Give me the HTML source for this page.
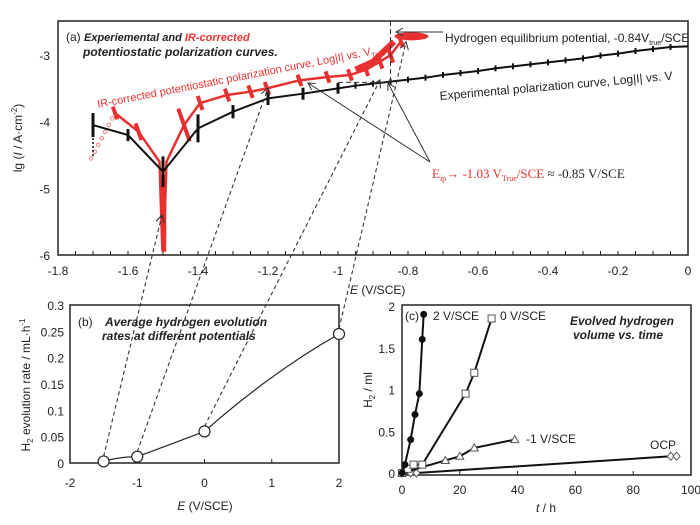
<!DOCTYPE html>
<html><head><meta charset="utf-8">
<style>
html,body{margin:0;padding:0;background:#fff;}
svg{display:block;font-family:"Liberation Sans",sans-serif;}
.t{font-size:12px;fill:#222;}
</style></head>
<body>
<svg id="fig" width="700" height="525" viewBox="0 0 700 525" xmlns="http://www.w3.org/2000/svg">
<defs>
<marker id="ah" markerWidth="8" markerHeight="8" refX="7" refY="4" orient="auto"><path d="M0,0 L7,4 L0,8" fill="none" stroke="#333" stroke-width="1"/></marker>
</defs>
<g id="ga"></g>
<g id="gb"></g>
<g id="gc"></g>
<g id="gl"></g>
</svg>
<script>
// ---- Panel a data ----
const aTicksX = [-1.8,-1.6,-1.4,-1.2,-1,-0.8,-0.6,-0.4,-0.2,0];
const aTicksY = [-3,-4,-5,-6];
const expE = [-1.7,-1.6,-1.5,-1.4,-1.3,-1.2,-1.1,-1,-0.95,-0.9,-0.85,-0.8,-0.75,-0.7,-0.65,-0.6,-0.55,-0.5,-0.45,-0.4,-0.35,-0.3,-0.25,-0.2,-0.15,-0.1,-0.05,0];
const expLg = [-4.05,-4.2,-4.75,-4.1,-3.85,-3.65,-3.58,-3.5,-3.46,-3.43,-3.4,-3.37,-3.34,-3.3,-3.27,-3.24,-3.2,-3.17,-3.14,-3.11,-3.08,-3.05,-3.01,-2.98,-2.94,-2.91,-2.88,-2.87];
const expErr = [0.15,0.06,0.2,0.18,0.07,0.07,0.06,0.05,0.015,0.015,0.015,0.015,0.015,0.015,0.015,0.015,0.015,0.015,0.015,0.015,0.015,0.015,0.015,0.015,0.015,0.015,0.015,0];
const irE = [-1.637,-1.57,-1.51,-1.502,-1.498,-1.49,-1.44,-1.394,-1.317,-1.25,-1.203,-1.11,-1.03,-0.966,-0.92,-0.88,-0.85,-0.82];
const irLg = [-3.87,-4.15,-4.6,-5.9,-5.9,-4.6,-4.05,-3.72,-3.6,-3.55,-3.5,-3.38,-3.33,-3.3,-3.22,-3.1,-3.0,-2.8];
const irErr = [0.05,0.08,0,0,0,0,0.2,0.06,0.05,0.05,0.05,0.04,0.04,0.04,0.05,0.06,0.07,0.04];
const ocE = [-1.705,-1.695,-1.685,-1.675,-1.665,-1.655,-1.645];
const ocLg = [-4.55,-4.45,-4.35,-4.25,-4.15,-4.05,-3.95];
// ---- Panel b data ----
const bTicksX = [-2,-1,0,1,2];
const bTicksY = [0,0.05,0.1,0.15,0.2,0.25,0.3];
const bE = [-1.5,-1,0,2];
const bRate = [0.003,0.012,0.06,0.245];
// ---- Panel c data ----
const cTicksX = [0,20,40,60,80,100];
const cTicksY = [0,0.5,1,1.5,2];
const c2T = [0,1,3,4.5,6,7,7.5];
const c2V = [0,0.1,0.4,0.7,0.95,1.6,1.9];
const c0T = [0,2,4,7,22,25,31];
const c0V = [0,0.05,0.1,0.1,0.95,1.2,1.85];
const cm1T = [0,15,20,25,39];
const cm1V = [0,0.15,0.2,0.3,0.4];
const cOcpT = [0,3,5,93,95];
const cOcpV = [0,0,0,0.2,0.2];

const NS="http://www.w3.org/2000/svg";
function mk(parent,tag,attrs,txt){const e=document.createElementNS(NS,tag);for(const k in attrs)e.setAttribute(k,attrs[k]);if(txt!==undefined)e.textContent=txt;parent.appendChild(e);return e;}

const ax=e=>58+(e+1.8)/1.8*630, ay=v=>55+(-3-v)*66.7;
const bx=e=>70+(e+2)/4*269, by=v=>463-v/0.3*158;
const cx=t=>402+t/100*289, cy=v=>473-v/2*167;

// ===== Panel a =====
const ga=document.getElementById('ga');
let f=mk(ga,'rect',{x:58,y:21,width:630,height:234,fill:'none',stroke:'#222','stroke-width':1.5});

aTicksX.forEach(v=>{const l=mk(ga,'text',{x:ax(v),y:275,'text-anchor':'middle',class:'t','font-size':'13'},String(v));});
for(let v=-1.75;v<0;v+=0.05){mk(ga,'line',{x1:ax(v),x2:ax(v),y1:255,y2:251,stroke:'#222'});}
aTicksY.forEach(v=>{const l=mk(ga,'text',{x:50,y:ay(v)+5,'text-anchor':'end',class:'t','font-size':'13'},String(v));});
let t=mk(ga,'text',{x:22,y:138,transform:'rotate(-90 22 138)','text-anchor':'middle',class:'t','font-size':'13'});
t.innerHTML='lg (<tspan font-style="italic">I</tspan> / A·cm<tspan font-size="8" dy="-5">-2</tspan><tspan dy="5">)</tspan>';

t=mk(ga,'text',{x:350,y:294,class:'t','font-size':'13'});t.innerHTML='<tspan font-style="italic">E</tspan> (V/SCE)';

t=mk(ga,'text',{x:66,y:41,class:'t','font-size':'12'});
t.innerHTML='(a) <tspan font-weight="bold" font-style="italic" font-size="11">Experiemental and </tspan><tspan font-weight="bold" font-style="italic" font-size="11" fill="#e33">IR-corrected</tspan>';

t=mk(ga,'text',{x:83,y:56,class:'t','font-size':'11','font-weight':'bold','font-style':'italic'},'potentiostatic polarization curves.');

ocE.forEach((e,i)=>{const c=mk(ga,'circle',{cx:ax(e),cy:ay(ocLg[i]),r:1.8,fill:'none',stroke:'#f08080'});});
let p=mk(ga,'polyline',{points:irE.map((e,i)=>ax(e)+','+ay(irLg[i])).join(' '),fill:'none',stroke:'#e83030','stroke-width':2.5});

irE.forEach((e,i)=>{if(!irErr[i])return;const x=ax(e),y=ay(irLg[i]),d=irErr[i]*66.7+3;const m=mk(ga,'line',{x1:x-d*0.35,y1:y-d,x2:x+d*0.35,y2:y+d,stroke:'#e83030','stroke-width':4});});
mk(ga,'rect',{x:ax(-1.505),y:ay(-4.8),width:5,height:ay(-5.95)-ay(-4.8),fill:'#e83030'});
mk(ga,'ellipse',{cx:ax(-0.79),cy:ay(-2.72),rx:17,ry:4,fill:'#e83030'});
mk(ga,'polyline',{points:[[-0.95,-3.22],[-0.92,-3.15],[-0.9,-3.1],[-0.88,-3.0],[-0.86,-2.9],[-0.84,-2.8]].map(q=>ax(q[0])+','+ay(q[1])).join(' '),fill:'none',stroke:'#e83030','stroke-width':6});
t=mk(ga,'text',{x:98,y:108,transform:'rotate(-11 98 108)',fill:'#e83030','font-size':'11'});
t.innerHTML='IR-corrected potentiostatic polarization curve, Log|I| vs. V<tspan font-size="7" dy="3">True</tspan>';

p=mk(ga,'polyline',{points:expE.map((e,i)=>ax(e)+','+ay(expLg[i])).join(' '),fill:'none',stroke:'#111','stroke-width':2});

expE.forEach((e,i)=>{if(!expErr[i])return;const x=ax(e),y=ay(expLg[i]),d=expErr[i]*66.7+2;const m=mk(ga,'line',{x1:x,y1:y-d,x2:x,y2:y+d,stroke:'#111','stroke-width':i<8?3:2});});
for(let k=0;k<6;k++)mk(ga,'circle',{cx:ax(-1.7),cy:ay(-4.2-k*0.06),r:1,fill:'#111'});
t=mk(ga,'text',{x:440,y:100,transform:'rotate(-5 440 100)',class:'t','font-size':'11'},'Experimental polarization curve, Log|I| vs. V');

mk(ga,'line',{x1:ax(-0.85),x2:ax(-0.85),y1:21,y2:ay(-3.4),stroke:'#333','stroke-dasharray':'5,3'});
mk(ga,'line',{x1:ax(-1.0),x2:ax(-0.85),y1:ay(-3.41),y2:ay(-3.41),stroke:'#333','stroke-dasharray':'5,3'});
mk(ga,'line',{x1:443,y1:32,x2:396,y2:32,stroke:'#333','marker-end':'url(#ah)'});
t=mk(ga,'text',{x:445,y:42,class:'t','font-size':'11'});
t.innerHTML='Hydrogen equilibrium potential, -0.84V<tspan font-size="7" dy="3">true</tspan><tspan dy="-3">/SCE</tspan>';

mk(ga,'line',{x1:430,y1:162,x2:388,y2:83,stroke:'#333','marker-end':'url(#ah)'});
mk(ga,'line',{x1:430,y1:162,x2:308,y2:83,stroke:'#333','marker-end':'url(#ah)'});
t=mk(ga,'text',{x:432,y:178,'font-size':'13','font-family':'Liberation Serif,serif',fill:'#e83030'});
t.innerHTML='E<tspan font-size="8" dy="3">ip</tspan><tspan dy="-3">→ -1.03 V</tspan><tspan font-size="8" dy="3">True</tspan><tspan dy="-3">/SCE </tspan><tspan fill="#222">≈ -0.85 V/SCE</tspan>';


// ===== Panel b =====
const gb=document.getElementById('gb');
f=mk(gb,'rect',{x:70,y:305,width:269,height:158,fill:'none',stroke:'#222','stroke-width':1.5});

bTicksX.forEach(v=>{mk(gb,'line',{x1:bx(v),x2:bx(v),y1:463,y2:459,stroke:'#222'});const l=mk(gb,'text',{x:bx(v),y:487,'text-anchor':'middle',class:'t','font-size':'13'},String(v));});
bTicksY.forEach(v=>{const l=mk(gb,'text',{x:64,y:by(v)+5,'text-anchor':'end',class:'t','font-size':'13'},String(v));});
t=mk(gb,'text',{x:30,y:385,transform:'rotate(-90 30 385)','text-anchor':'middle',class:'t','font-size':'12.5'});
t.innerHTML='H<tspan font-size="8" dy="3">2</tspan><tspan dy="-3"> evolution rate / mL·h</tspan><tspan font-size="8" dy="-5">-1</tspan>';

t=mk(gb,'text',{x:205,y:510,'text-anchor':'middle',class:'t','font-size':'13'});t.innerHTML='<tspan font-style="italic">E</tspan> (V/SCE)';

mk(gb,'text',{x:78,y:326,class:'t','font-size':'12'},'(b)');
t=mk(gb,'text',{x:105,y:326,class:'t','font-size':'11','font-weight':'bold','font-style':'italic'},'Average hydrogen evolution');

mk(gb,'text',{x:102,y:340,class:'t','font-size':'11','font-weight':'bold','font-style':'italic'},'rates at different potentials');
{let d='M'+bx(bE[0])+','+by(bRate[0]);for(let i=1;i<bE.length;i++){const x0=bx(bE[i-1]),y0=by(bRate[i-1]),x1=bx(bE[i]),y1=by(bRate[i]);d+=' Q'+((x0+x1)/2)+','+(i==1?y1:(y0*0.35+y1*0.65)+4)+' '+x1+','+y1;}
p=mk(gb,'path',{d:d,fill:'none',stroke:'#222','stroke-width':1.2});}
bE.forEach((e,i)=>{const c=mk(gb,'circle',{cx:bx(e),cy:by(bRate[i]),r:5.5,fill:'#fff',stroke:'#222','stroke-width':1.2});});

// ===== Panel c =====
const gc=document.getElementById('gc');
f=mk(gc,'rect',{x:402,y:305,width:289,height:170,fill:'none',stroke:'#222','stroke-width':1.5});

cTicksX.forEach(v=>{mk(gc,'line',{x1:cx(v),x2:cx(v),y1:475,y2:471,stroke:'#222'});const l=mk(gc,'text',{x:cx(v),y:494,'text-anchor':'middle',class:'t','font-size':'13'},String(v));});
cTicksY.forEach(v=>{const l=mk(gc,'text',{x:395,y:cy(v)+5,'text-anchor':'end',class:'t','font-size':'13'},String(v));});
t=mk(gc,'text',{x:372,y:390,transform:'rotate(-90 372 390)','text-anchor':'middle',class:'t','font-size':'12.5'});
t.innerHTML='H<tspan font-size="8" dy="3">2</tspan><tspan dy="-3"> / ml</tspan>';

t=mk(gc,'text',{x:546,y:512,'text-anchor':'middle',class:'t','font-size':'13'});t.innerHTML='<tspan font-style="italic">t</tspan> / h';

mk(gc,'text',{x:405,y:320,class:'t','font-size':'12'},'(c)');
t=mk(gc,'text',{x:674,y:325,'text-anchor':'end',class:'t','font-size':'10.5','font-weight':'bold','font-style':'italic'},'Evolved hydrogen');

mk(gc,'text',{x:663,y:339,'text-anchor':'end',class:'t','font-size':'10.5','font-weight':'bold','font-style':'italic'},'volume vs. time');
function series(T,V,kind,name){
  const pl=mk(gc,'polyline',{points:T.map((x,i)=>cx(x)+','+cy(V[i])).join(' '),fill:'none',stroke:'#111','stroke-width':2});
  
  T.forEach((x,i)=>{const X=cx(x),Y=cy(V[i]);let m;
    if(kind=='circle')m=mk(gc,'circle',{cx:X,cy:Y,r:3.5,fill:'#111'});
    else if(kind=='square')m=mk(gc,'rect',{x:X-3.5,y:Y-3.5,width:7,height:7,fill:'#fff',stroke:'#555'});
    else if(kind=='tri')m=mk(gc,'polygon',{points:(X)+','+(Y-4)+' '+(X-4)+','+(Y+3)+' '+(X+4)+','+(Y+3),fill:'#fff',stroke:'#555'});
    else m=mk(gc,'polygon',{points:X+','+(Y-4)+' '+(X+3.5)+','+Y+' '+X+','+(Y+4)+' '+(X-3.5)+','+Y,fill:'#fff',stroke:'#555'});
    });
}
series(cOcpT,cOcpV,'diamond','ocp');
series(cm1T,cm1V,'tri','minus1v');
series(c0T,c0V,'square','zero-v');
series(c2T,c2V,'circle','two-v');
[['2 V/SCE',433,320],['0 V/SCE',500,320],['-1 V/SCE',526,443],['OCP',650,449]].forEach(s=>{const l=mk(gc,'text',{x:s[1],y:s[2],class:'t','font-size':'13'},s[0]);});

// ===== connector dashed lines =====
const gl=document.getElementById('gl');
[[bx(-1.5),by(bRate[0]),162,215],[bx(-1),by(bRate[1]),268,88],[bx(0),by(bRate[2]),380,80],[bx(2),by(bRate[3]),406,42]].forEach(L=>{
  const d=mk(gl,'line',{x1:L[0],y1:L[1]-5,x2:L[2],y2:L[3],stroke:'#333','stroke-dasharray':'4,3','stroke-width':1.1,'marker-end':'url(#ah)'});
  });
</script>
</body></html>
